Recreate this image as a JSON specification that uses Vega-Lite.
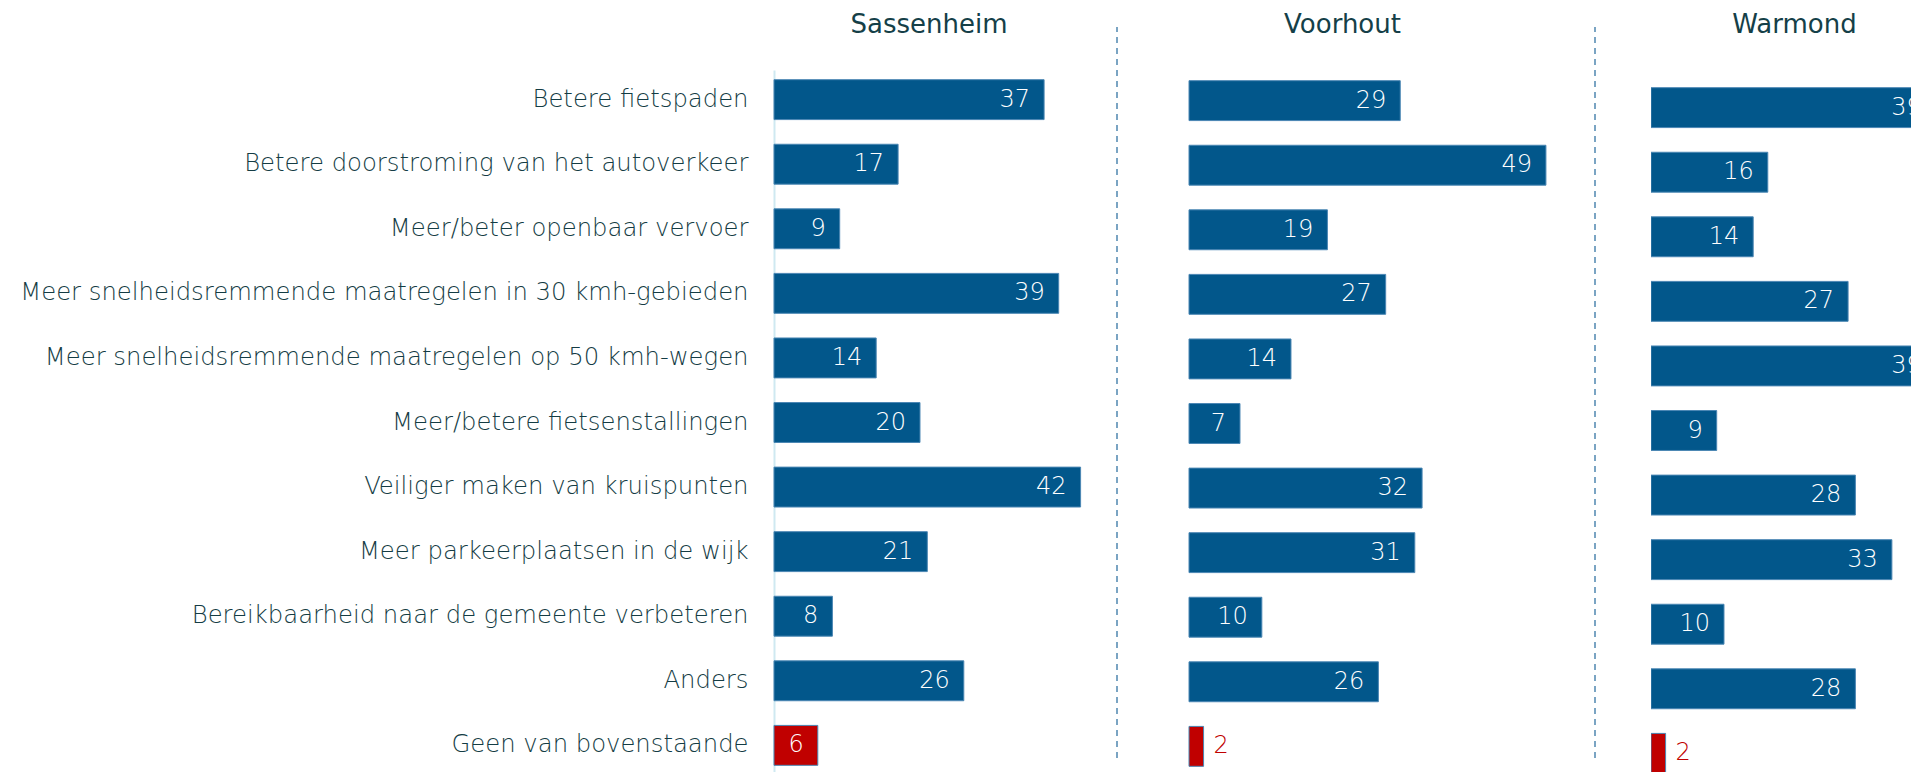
{
  "$schema": "https://vega.github.io/schema/vega-lite/v6.json",
  "padding": {"left": 5, "top": 12, "right": 0, "bottom": 0},
  "background": "white",
  "spacing": 0,
  "config": {
    "view": {"stroke": null},
    "font": "DejaVu Sans",
    "title": {"fontSize": 26, "fontWeight": "normal", "color": "#153f48", "anchor": "middle", "font": "DejaVu Sans"}
  },
  "datasets": {
    "d": [
      {"gemeente": "Sassenheim", "categorie": "Betere fietspaden", "waarde": 37},
      {"gemeente": "Sassenheim", "categorie": "Betere doorstroming van het autoverkeer", "waarde": 17},
      {"gemeente": "Sassenheim", "categorie": "Meer/beter openbaar vervoer", "waarde": 9},
      {"gemeente": "Sassenheim", "categorie": "Meer snelheidsremmende maatregelen in 30 kmh-gebieden", "waarde": 39},
      {"gemeente": "Sassenheim", "categorie": "Meer snelheidsremmende maatregelen op 50 kmh-wegen", "waarde": 14},
      {"gemeente": "Sassenheim", "categorie": "Meer/betere fietsenstallingen", "waarde": 20},
      {"gemeente": "Sassenheim", "categorie": "Veiliger maken van kruispunten", "waarde": 42},
      {"gemeente": "Sassenheim", "categorie": "Meer parkeerplaatsen in de wijk", "waarde": 21},
      {"gemeente": "Sassenheim", "categorie": "Bereikbaarheid naar de gemeente verbeteren", "waarde": 8},
      {"gemeente": "Sassenheim", "categorie": "Anders", "waarde": 26},
      {"gemeente": "Sassenheim", "categorie": "Geen van bovenstaande", "waarde": 6},
      {"gemeente": "Voorhout", "categorie": "Betere fietspaden", "waarde": 29},
      {"gemeente": "Voorhout", "categorie": "Betere doorstroming van het autoverkeer", "waarde": 49},
      {"gemeente": "Voorhout", "categorie": "Meer/beter openbaar vervoer", "waarde": 19},
      {"gemeente": "Voorhout", "categorie": "Meer snelheidsremmende maatregelen in 30 kmh-gebieden", "waarde": 27},
      {"gemeente": "Voorhout", "categorie": "Meer snelheidsremmende maatregelen op 50 kmh-wegen", "waarde": 14},
      {"gemeente": "Voorhout", "categorie": "Meer/betere fietsenstallingen", "waarde": 7},
      {"gemeente": "Voorhout", "categorie": "Veiliger maken van kruispunten", "waarde": 32},
      {"gemeente": "Voorhout", "categorie": "Meer parkeerplaatsen in de wijk", "waarde": 31},
      {"gemeente": "Voorhout", "categorie": "Bereikbaarheid naar de gemeente verbeteren", "waarde": 10},
      {"gemeente": "Voorhout", "categorie": "Anders", "waarde": 26},
      {"gemeente": "Voorhout", "categorie": "Geen van bovenstaande", "waarde": 2},
      {"gemeente": "Warmond", "categorie": "Betere fietspaden", "waarde": 39},
      {"gemeente": "Warmond", "categorie": "Betere doorstroming van het autoverkeer", "waarde": 16},
      {"gemeente": "Warmond", "categorie": "Meer/beter openbaar vervoer", "waarde": 14},
      {"gemeente": "Warmond", "categorie": "Meer snelheidsremmende maatregelen in 30 kmh-gebieden", "waarde": 27},
      {"gemeente": "Warmond", "categorie": "Meer snelheidsremmende maatregelen op 50 kmh-wegen", "waarde": 39},
      {"gemeente": "Warmond", "categorie": "Meer/betere fietsenstallingen", "waarde": 9},
      {"gemeente": "Warmond", "categorie": "Veiliger maken van kruispunten", "waarde": 28},
      {"gemeente": "Warmond", "categorie": "Meer parkeerplaatsen in de wijk", "waarde": 33},
      {"gemeente": "Warmond", "categorie": "Bereikbaarheid naar de gemeente verbeteren", "waarde": 10},
      {"gemeente": "Warmond", "categorie": "Anders", "waarde": 28},
      {"gemeente": "Warmond", "categorie": "Geen van bovenstaande", "waarde": 2}
    ]
  },
  "hconcat": [
    {
      "width": 342, "height": 705,
      "title": {"text": "Sassenheim", "offset": 32, "dx": -16},
      "data": {"name": "d"},
      "transform": [{"filter": "datum.gemeente === 'Sassenheim'"}],
      "encoding": {
        "y": {"field": "categorie", "type": "nominal",
          "sort": ["Betere fietspaden", "Betere doorstroming van het autoverkeer", "Meer/beter openbaar vervoer", "Meer snelheidsremmende maatregelen in 30 kmh-gebieden", "Meer snelheidsremmende maatregelen op 50 kmh-wegen", "Meer/betere fietsenstallingen", "Veiliger maken van kruispunten", "Meer parkeerplaatsen in de wijk", "Bereikbaarheid naar de gemeente verbeteren", "Anders", "Geen van bovenstaande"],
          "scale": {"paddingInner": 0.382, "paddingOuter": 0.15},
          "axis": {"title": null, "labelFontSize": 24.3, "labelFont": "DejaVu Sans", "labelFontWeight": 200, "labelColor": "#143c44", "labelPadding": 26, "ticks": false, "domainColor": "#cfe9f1", "domainWidth": 2, "minExtent": 769, "maxExtent": 769, "labelLimit": 0}},
        "x": {"field": "waarde", "type": "quantitative", "scale": {"domain": [0, 46.85]}, "axis": null}
      },
      "layer": [
        {"mark": {"type": "bar", "stroke": "#4a86b3", "strokeWidth": 1},
         "encoding": {"color": {"condition": {"test": "datum.categorie === 'Geen van bovenstaande'", "value": "#c00000"}, "value": "#02578b"}}},
        {"transform": [{"filter": "datum.waarde > 3"}],
         "mark": {"type": "text", "align": "right", "baseline": "middle", "dx": -14, "color": "white", "fontSize": 24, "font": "DejaVu Sans", "fontWeight": 200},
         "encoding": {"text": {"field": "waarde", "type": "quantitative"}}},
        {"transform": [{"filter": "datum.waarde <= 3"}],
         "mark": {"type": "text", "align": "left", "baseline": "middle", "dx": 12, "color": "#c00000", "fontSize": 24, "font": "DejaVu Sans", "fontWeight": 200},
         "encoding": {"text": {"field": "waarde", "type": "quantitative"}}}
      ]
    },
    {
      "width": 71, "height": 705,
      "data": {"values": [{}]},
      "mark": {"type": "rule", "strokeDash": [6, 5], "color": "#4f86b0", "strokeWidth": 1.5},
      "encoding": {
        "x": {"datum": 0, "type": "quantitative", "scale": {"domain": [0, 1]}, "axis": null},
        "y": {"datum": 0.0241, "type": "quantitative", "scale": {"domain": [0, 1]}, "axis": null},
        "y2": {"datum": 1.061}
      }
    },
    {
      "width": 405, "height": 705,
      "title": {"text": "Voorhout", "offset": 32, "dx": -49},
      "data": {"name": "d"},
      "transform": [{"filter": "datum.gemeente === 'Voorhout'"}],
      "encoding": {
        "y": {"field": "categorie", "type": "nominal",
          "sort": ["Betere fietspaden", "Betere doorstroming van het autoverkeer", "Meer/beter openbaar vervoer", "Meer snelheidsremmende maatregelen in 30 kmh-gebieden", "Meer snelheidsremmende maatregelen op 50 kmh-wegen", "Meer/betere fietsenstallingen", "Veiliger maken van kruispunten", "Meer parkeerplaatsen in de wijk", "Bereikbaarheid naar de gemeente verbeteren", "Anders", "Geen van bovenstaande"],
          "scale": {"paddingInner": 0.382, "paddingOuter": 0.15},
          "axis": null},
        "x": {"field": "waarde", "type": "quantitative", "scale": {"domain": [0, 55.6]}, "axis": null}
      },
      "layer": [
        {"mark": {"type": "bar", "stroke": "#4a86b3", "strokeWidth": 1, "yOffset": 1},
         "encoding": {"color": {"condition": {"test": "datum.categorie === 'Geen van bovenstaande'", "value": "#c00000"}, "value": "#02578b"}}},
        {"transform": [{"filter": "datum.waarde > 3"}],
         "mark": {"type": "text", "align": "right", "baseline": "middle", "dx": -14, "yOffset": 1, "color": "white", "fontSize": 24, "font": "DejaVu Sans", "fontWeight": 200},
         "encoding": {"text": {"field": "waarde", "type": "quantitative"}}},
        {"transform": [{"filter": "datum.waarde <= 3"}],
         "mark": {"type": "text", "align": "left", "baseline": "middle", "dx": 10, "yOffset": 1, "color": "#c00000", "fontSize": 24, "font": "DejaVu Sans", "fontWeight": 200},
         "encoding": {"text": {"field": "waarde", "type": "quantitative"}}}
      ]
    },
    {
      "width": 56, "height": 705,
      "data": {"values": [{}]},
      "mark": {"type": "rule", "strokeDash": [6, 5], "color": "#4f86b0", "strokeWidth": 1.5},
      "encoding": {
        "x": {"datum": 0, "type": "quantitative", "scale": {"domain": [0, 1]}, "axis": null},
        "y": {"datum": 0.0241, "type": "quantitative", "scale": {"domain": [0, 1]}, "axis": null},
        "y2": {"datum": 1.061}
      }
    },
    {
      "width": 263, "height": 705,
      "title": {"text": "Warmond", "offset": 32, "dx": 12},
      "data": {"name": "d"},
      "transform": [{"filter": "datum.gemeente === 'Warmond'"}],
      "encoding": {
        "y": {"field": "categorie", "type": "nominal",
          "sort": ["Betere fietspaden", "Betere doorstroming van het autoverkeer", "Meer/beter openbaar vervoer", "Meer snelheidsremmende maatregelen in 30 kmh-gebieden", "Meer snelheidsremmende maatregelen op 50 kmh-wegen", "Meer/betere fietsenstallingen", "Veiliger maken van kruispunten", "Meer parkeerplaatsen in de wijk", "Bereikbaarheid naar de gemeente verbeteren", "Anders", "Geen van bovenstaande"],
          "scale": {"paddingInner": 0.382, "paddingOuter": 0.15},
          "axis": null},
        "x": {"field": "waarde", "type": "quantitative", "scale": {"domain": [0, 36.03]}, "axis": null}
      },
      "layer": [
        {"mark": {"type": "bar", "stroke": "#4a86b3", "strokeWidth": 1, "yOffset": 8, "clip": true},
         "encoding": {"color": {"condition": {"test": "datum.categorie === 'Geen van bovenstaande'", "value": "#c00000"}, "value": "#02578b"}}},
        {"transform": [{"filter": "datum.waarde > 3"}],
         "mark": {"type": "text", "align": "right", "baseline": "middle", "dx": -14, "yOffset": 8, "clip": true, "color": "white", "fontSize": 24, "font": "DejaVu Sans", "fontWeight": 200},
         "encoding": {"text": {"field": "waarde", "type": "quantitative"}}},
        {"transform": [{"filter": "datum.waarde <= 3"}],
         "mark": {"type": "text", "align": "left", "baseline": "middle", "dx": 10, "yOffset": 8, "clip": true, "color": "#c00000", "fontSize": 24, "font": "DejaVu Sans", "fontWeight": 200},
         "encoding": {"text": {"field": "waarde", "type": "quantitative"}}}
      ]
    }
  ]
}
